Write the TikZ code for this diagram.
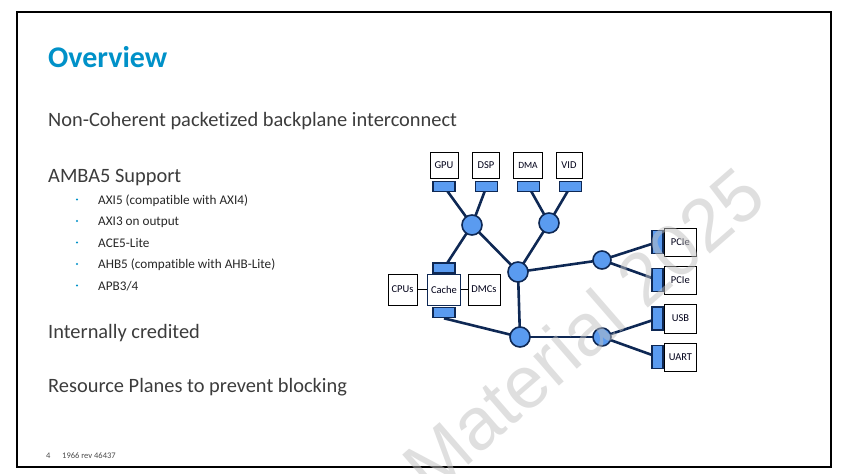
\documentclass[tikz,border=0pt]{standalone}
\usepackage{fontspec}
\setmainfont[Ligatures=NoCommon]{Carlito}
\newfontfamily\wmfont{Liberation Sans}
\pgfdeclarelayer{bg}
\pgfdeclarelayer{fg}
\pgfsetlayers{bg,main,fg}
\definecolor{navy}{RGB}{14,40,84}
\definecolor{portblue}{RGB}{90,155,240}
\definecolor{titleblue}{RGB}{0,145,200}
\definecolor{bodygray}{RGB}{60,60,60}
\begin{document}
\begin{tikzpicture}[x=1pt,y=-1pt,
  txt/.style={anchor=base west,inner sep=0,text=bodygray},
  big/.style={txt,font=\fontsize{20.4}{24}\selectfont},
  bul/.style={txt,text=black!85,font=\fontsize{13.2}{16}\selectfont},
  dot/.style={circle,fill=titleblue,inner sep=0,minimum size=2.2},
  dev/.style={draw=black,fill=white,line width=0.8,inner sep=0,minimum height=26,text=black!90!blue,font=\fontsize{10.5}{12}\selectfont},
  hport/.style={draw=navy,fill=portblue,line width=1.6,inner sep=0,minimum width=22,minimum height=10},
  vport/.style={draw=navy,fill=portblue,line width=1.6,inner sep=0,minimum width=11,minimum height=23},
  junc/.style={circle,draw=navy,fill=portblue,line width=1.6,inner sep=0,minimum size=20},
  link/.style={draw=navy,line width=2.6},
  thin/.style={draw=black,line width=0.8},
  foot/.style={txt,font=\fontsize{8.5}{10}\selectfont,text=black!70}]
\useasboundingbox (0,0) rectangle (847,474);
\draw[line width=2.6] (17,12) rectangle (831,467);
% text
\node[anchor=base west,inner sep=0,text=titleblue,font=\fontsize{30}{34}\bfseries] (title) at (48,67) {Overview};
\node[big] (t1) at (48,126) {Non-Coherent packetized backplane interconnect};
\node[big] (t2) at (48,182) {AMBA5 Support};
\node[bul] (b1) at (98,204) {AXI5 (compatible with AXI4)};
\node[bul] (b2) at (98,225.5) {AXI3 on output};
\node[bul] (b3) at (98,247) {ACE5-Lite};
\node[bul] (b4) at (98,268.5) {AHB5 (compatible with AHB-Lite)};
\node[bul] (b5) at (98,290) {APB3/4};
\node[dot] (d1) at (77,199.5) {};
\node[dot] (d2) at (77,221) {};
\node[dot] (d3) at (77,242.5) {};
\node[dot] (d4) at (77,264) {};
\node[dot] (d5) at (77,285.5) {};
\node[big] (t3) at (48,338) {Internally credited};
\node[big] (t4) at (48,392) {Resource Planes to prevent blocking};
\node[foot] (pg) at (46,458) {4};
\node[foot] (rev) at (62,458) {1966 rev 46437};
% devices
\node[dev,minimum width=28] (gpu) at (444,165) {GPU};
\node[dev,minimum width=27] (dsp) at (486,165) {DSP};
\node[dev,minimum width=29,font=\fontsize{9.5}{11}\selectfont] (dma) at (528,165) {DMA};
\node[dev,minimum width=26] (vid) at (569,165) {VID};
\node[hport] (gpuP) at (444,186.5) {};
\node[hport] (dspP) at (486.5,186.5) {};
\node[hport] (dmaP) at (528.5,186.5) {};
\node[hport] (vidP) at (570.5,186.5) {};
\node[junc] (j1) at (472,225) {};
\node[junc] (j2) at (549,223) {};
\node[junc] (j3) at (518,272) {};
\node[junc,minimum size=18] (j4) at (602,260) {};
\node[junc] (j5) at (520,337) {};
\node[junc,minimum size=18] (j6) at (602,337) {};
\node[hport] (cacheT) at (444,268) {};
\node[dev,draw=navy,minimum width=33,minimum height=31] (cache) at (444,289.5) {Cache};
\node[dev,minimum width=29,minimum height=31] (cpus) at (402.5,289.5) {CPUs};
\node[dev,minimum width=32,minimum height=31] (dmcs) at (484,289.5) {DMCs};
\node[hport] (cacheB) at (444,312.5) {};
\node[dev,minimum width=32,minimum height=28,anchor=west] (pcie1) at (664,242) {PCIe};
\node[dev,minimum width=32,minimum height=28,anchor=west] (pcie2) at (664,280) {PCIe};
\node[dev,minimum width=32,minimum height=29,anchor=west] (usb) at (664,318.5) {USB};
\node[dev,minimum width=32,minimum height=28,anchor=west] (uart) at (664,357) {UART};
\node[vport,anchor=east] (p1) at (pcie1.west) {};
\node[vport,anchor=east] (p2) at (pcie2.west) {};
\node[vport,anchor=east] (pu) at (usb.west) {};
\node[vport,anchor=east] (pa) at (uart.west) {};
% connectors
\begin{pgfonlayer}{bg}
\draw[link] (gpuP.center) -- (j1.center);
\draw[link] (dspP.center) -- (j1.center);
\draw[link] (dmaP.center) -- (j2.center);
\draw[link] (vidP.center) -- (j2.center);
\draw[link] (j1.center) -- (cacheT.center);
\draw[link] (j1.center) -- (j3.center);
\draw[link] (j2.center) -- (j3.center);
\draw[link] (j3.center) -- (j4.center);
\draw[link] (j4.center) -- (p1.center);
\draw[link] (j4.center) -- (p2.center);
\draw[link] (j3.center) -- (j5.center);
\draw[link] (cacheB.south) -- (j5.center);
\draw[link] (j5.center) -- (j6.center);
\draw[link] (j6.center) -- (pu.center);
\draw[link] (j6.center) -- (pa.center);
\draw[thin] (cpus.east) -- (cache.west);
\draw[thin] (cache.east) -- (dmcs.west);
\end{pgfonlayer}
% watermark
\begin{pgfonlayer}{fg}
\node[inner sep=0,rotate=41,text=gray!50,opacity=0.5,font=\wmfont\fontsize{74}{74}\selectfont] (wm) at (583,330) {Material 2025};
\end{pgfonlayer}
\end{tikzpicture}
\end{document}
